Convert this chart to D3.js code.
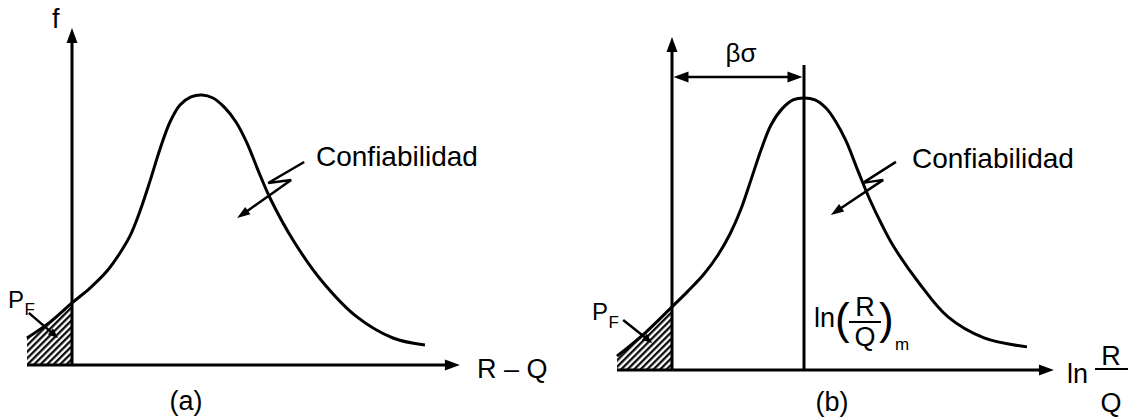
<!DOCTYPE html>
<html><head><meta charset="utf-8">
<script src="https://cdn.jsdelivr.net/npm/d3@7"></script>
<style>
html,body{margin:0;padding:0;background:#fff;}
svg{display:block;}
text{font-family:"Liberation Sans",Arial,Helvetica,sans-serif;fill:#000;}
</style></head><body>
<svg id="chart" width="1131" height="418"></svg>
<script>
// Panel (a): density of the safety margin R – Q
const marginA  = [-1.0, -0.489, 0.0, 0.4, 0.778, 1.067, 1.289, 1.511, 1.733, 1.956, 2.178, 2.4, 2.644, 2.889,
                  3.133, 3.378, 3.644, 3.889, 4.133, 4.422, 4.911, 5.533, 6.333, 7.133, 7.844];
const densityA = [0.100, 0.159, 0.230, 0.285, 0.348, 0.415, 0.478, 0.570, 0.681, 0.800, 0.900, 0.963, 0.993, 1.0,
                  0.989, 0.956, 0.900, 0.822, 0.722, 0.611, 0.463, 0.315, 0.178, 0.100, 0.074];

// Panel (b): density of ln(R/Q)
const logRatioB = [-1.25, -0.614, 0.0, 0.364, 0.727, 1.045, 1.318, 1.568, 1.795, 2.023, 2.25, 2.5, 2.75, 3.0,
                   3.25, 3.5, 3.727, 3.955, 4.227, 4.5, 4.773, 5.045, 5.614, 6.273, 7.091, 8.068];
const densityB  = [0.051, 0.136, 0.232, 0.290, 0.353, 0.423, 0.500, 0.592, 0.699, 0.809, 0.901, 0.960, 0.993, 1.0,
                   0.993, 0.963, 0.912, 0.842, 0.732, 0.625, 0.533, 0.452, 0.320, 0.195, 0.118, 0.085];

// distance from the origin to the median ln(R/Q)_m, in units of sigma
const betaSigma = 3.0;

const labels = {
  yAxisA: "f", xAxisA: "R \u2013 Q", reliability: "Confiabilidad",
  pf: "P", pfSub: "F", panelA: "(a)", panelB: "(b)", beta: "\u03B2\u03C3"
};

const svg = d3.select("#chart");

// hatch pattern for the failure probability area
svg.append("defs").append("pattern")
  .attr("id", "hatch").attr("patternUnits", "userSpaceOnUse")
  .attr("width", 4.6).attr("height", 4.6)
  .attr("patternTransform", "rotate(45)")
  .append("line").attr("x1", 1.2).attr("y1", 0).attr("x2", 1.2).attr("y2", 4.6)
  .attr("stroke", "#000").attr("stroke-width", 2.2);

function arrowHead(g, x1, y1, x2, y2, len, half) {
  const dx = x2 - x1, dy = y2 - y1, L = Math.hypot(dx, dy);
  const ux = dx / L, uy = dy / L;
  const bx = x2 - ux * len, by = y2 - uy * len;
  g.append("path")
    .attr("d", `M${x2},${y2}L${bx - uy * half},${by + ux * half}L${bx + uy * half},${by - ux * half}Z`)
    .attr("fill", "#000");
  return [bx + ux * 1, by + uy * 1];
}

function arrow(g, x1, y1, x2, y2, w, len, half) {
  const b = arrowHead(g, x1, y1, x2, y2, len, half);
  g.append("line").attr("x1", x1).attr("y1", y1).attr("x2", b[0]).attr("y2", b[1])
    .attr("stroke", "#000").attr("stroke-width", w);
}

function polyArrow(g, pts, w, len, half) {
  const n = pts.length;
  const b = arrowHead(g, pts[n - 2][0], pts[n - 2][1], pts[n - 1][0], pts[n - 1][1], len, half);
  const p = pts.slice(0, n - 1).concat([b]);
  g.append("path").attr("d", d3.line()(p)).attr("fill", "none")
    .attr("stroke", "#000").attr("stroke-width", w).attr("stroke-linejoin", "miter");
}

function drawPanel(cfg) {
  const g = svg.append("g");
  const { x, y, xs, fs } = cfg;
  const pts = xs.map((v, i) => [v, fs[i]]);
  const smooth = d3.curveCatmullRom.alpha(0.5);

  // failure region: area under the curve left of the vertical axis
  const clipId = "clip" + cfg.id;
  g.append("clipPath").attr("id", clipId).append("rect")
    .attr("x", x(xs[0]) - 1).attr("y", 0)
    .attr("width", x(0) - x(xs[0]) + 1).attr("height", y(0));
  g.append("path")
    .attr("clip-path", `url(#${clipId})`)
    .attr("d", d3.area().x(d => x(d[0])).y0(y(0)).y1(d => y(d[1])).curve(smooth)(pts))
    .attr("fill", "url(#hatch)");

  // density curve
  g.append("path")
    .attr("d", d3.line().x(d => x(d[0])).y(d => y(d[1])).curve(smooth)(pts))
    .attr("fill", "none").attr("stroke", "#000").attr("stroke-width", 3);

  // axes
  arrow(g, x(cfg.xMin), y(0), x(cfg.xMax), y(0), 3, 15, 5.5);
  arrow(g, x(0), y(0), x(0), y(cfg.yMax), 3, 15, 5.5);

  // reliability pointer (lightning arrow)
  polyArrow(g, cfg.bolt.map(p => [x(p[0]), y(p[1])]), 2.5, 13, 4.5);
  // failure probability pointer
  arrow(g, x(cfg.pfArrow[0][0]), y(cfg.pfArrow[0][1]), x(cfg.pfArrow[1][0]), y(cfg.pfArrow[1][1]), 2.5, 10, 4);

  return g;
}

// ---------- panel (a)
const xA = d3.scaleLinear().domain([-1, 9]).range([27, 477]);
const yA = d3.scaleLinear().domain([0, 1]).range([365, 95]);
const gA = drawPanel({
  id: "A", x: xA, y: yA, xs: marginA, fs: densityA,
  xMin: -1, xMax: 8.62, yMax: 1.248,
  bolt: [[5.16, 0.752], [4.36, 0.674], [4.87, 0.685], [3.67, 0.544]],
  pfArrow: [[-0.96, 0.193], [-0.31, 0.1]]
});
gA.append("text").attr("x", 52).attr("y", 28).attr("font-size", 27).text(labels.yAxisA);
gA.append("text").attr("x", 477).attr("y", 378).attr("font-size", 27).text(labels.xAxisA);
gA.append("text").attr("x", 316).attr("y", 166).attr("font-size", 28).text(labels.reliability);
gA.append("text").attr("x", 8).attr("y", 308).attr("font-size", 24).text(labels.pf);
gA.append("text").attr("x", 24.5).attr("y", 315).attr("font-size", 17).text(labels.pfSub);
gA.append("text").attr("x", 186).attr("y", 410).attr("font-size", 27).attr("text-anchor", "middle").text(labels.panelA);

// ---------- panel (b)
const xB = d3.scaleLinear().domain([-1.25, 8.75]).range([617, 1057]);
const yB = d3.scaleLinear().domain([0, 1]).range([370, 98]);
const gB = drawPanel({
  id: "B", x: xB, y: yB, xs: logRatioB, fs: densityB,
  xMin: -1.25, xMax: 8.68, yMax: 1.224,
  bolt: [[5.09, 0.765], [4.34, 0.688], [4.80, 0.699], [3.61, 0.570]],
  pfArrow: [[-1.11, 0.184], [-0.45, 0.099]]
});

// median line and beta*sigma span
gB.append("line").attr("x1", xB(betaSigma)).attr("x2", xB(betaSigma))
  .attr("y1", yB(0)).attr("y2", yB(1.121)).attr("stroke", "#000").attr("stroke-width", 3);
{
  const yy = yB(1.077), xl = xB(0), xr = xB(betaSigma);
  const mid = (xl + xr) / 2;
  arrow(gB, mid, yy, xl + 1.5, yy, 2.5, 15, 5.5);
  arrow(gB, mid, yy, xr - 1.5, yy, 2.5, 15, 5.5);
  gB.append("text").attr("x", mid + 3).attr("y", 62).attr("text-anchor", "middle")
    .attr("font-family", "Liberation Serif, serif").attr("font-size", 26).text(labels.beta);
}

gB.append("text").attr("x", 912).attr("y", 168).attr("font-size", 28).text(labels.reliability);
gB.append("text").attr("x", 592).attr("y", 320).attr("font-size", 24).text(labels.pf);
gB.append("text").attr("x", 608.5).attr("y", 328).attr("font-size", 17).text(labels.pfSub);
gB.append("text").attr("x", 832).attr("y", 411).attr("font-size", 27).attr("text-anchor", "middle").text(labels.panelB);

// ln(R/Q)_m label beside the median line
{
  const l = gB.append("g");
  l.append("text").attr("x", 814).attr("y", 327).attr("font-size", 27).text("ln");
  l.append("text").attr("x", 835).attr("y", 334).attr("font-size", 44).text("(");
  l.append("text").attr("x", 865).attr("y", 316).attr("font-size", 27).attr("text-anchor", "middle").text("R");
  l.append("line").attr("x1", 849).attr("x2", 881).attr("y1", 322).attr("y2", 322)
    .attr("stroke", "#000").attr("stroke-width", 2);
  l.append("text").attr("x", 865).attr("y", 346).attr("font-size", 27).attr("text-anchor", "middle").text("Q");
  l.append("text").attr("x", 879).attr("y", 334).attr("font-size", 44).text(")");
  l.append("text").attr("x", 895).attr("y", 350).attr("font-size", 17).text("m");
}

// x-axis title ln(R/Q)
{
  const l = gB.append("g");
  l.append("text").attr("x", 1067).attr("y", 383).attr("font-size", 27).text("ln");
  l.append("text").attr("x", 1111).attr("y", 365).attr("font-size", 27).attr("text-anchor", "middle").text("R");
  l.append("line").attr("x1", 1095).attr("x2", 1128).attr("y1", 369).attr("y2", 369)
    .attr("stroke", "#000").attr("stroke-width", 2);
  l.append("text").attr("x", 1111).attr("y", 412).attr("font-size", 27).attr("text-anchor", "middle").text("Q");
}
</script>
</body></html>
